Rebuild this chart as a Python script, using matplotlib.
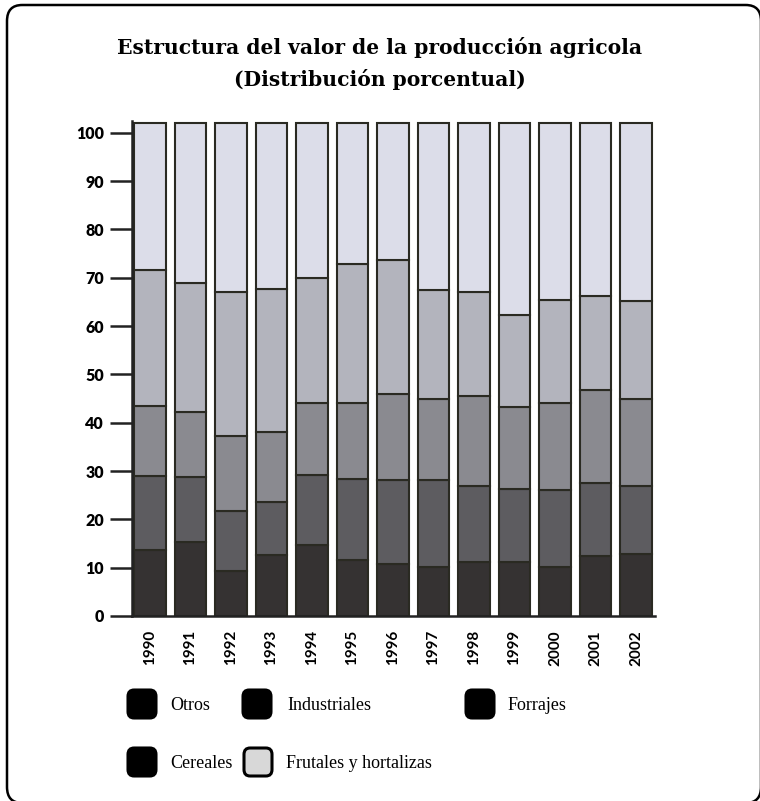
import matplotlib
matplotlib.use("Agg")
import matplotlib.pyplot as plt
from matplotlib.patches import FancyBboxPatch
import numpy as np

years = ["1990", "1991", "1992", "1993", "1994", "1995", "1996",
         "1997", "1998", "1999", "2000", "2001", "2002"]
otros = [13.6, 15.3, 9.3, 12.6, 14.6, 11.5, 10.8, 10.1, 11.1, 11.1, 10.1, 12.4, 12.9]
industriales = [15.3, 13.4, 12.4, 11.0, 14.5, 16.8, 17.4, 18.0, 15.8, 15.1, 15.9, 15.1, 14.0]
forrajes = [14.6, 13.5, 15.6, 14.4, 15.0, 15.8, 17.8, 16.7, 18.6, 17.0, 18.1, 19.2, 18.1]
cereales = [28.1, 26.6, 29.7, 29.6, 25.8, 28.7, 27.6, 22.6, 21.6, 19.1, 21.3, 19.5, 20.2]
frutales = [30.4, 33.2, 35.0, 34.4, 32.1, 29.2, 28.4, 34.6, 34.9, 39.7, 36.6, 35.8, 36.8]

series_names = ["Otros", "Industriales", "Forrajes", "Cereales", "Frutales y hortalizas"]
series = [otros, industriales, forrajes, cereales, frutales]
colors = ["#353232", "#5d5c60", "#8a8a90", "#b3b4bd", "#dcdde9"]
yticks = [0, 10, 20, 30, 40, 50, 60, 70, 80, 90, 100]

W, H = 760, 801
fig = plt.figure(figsize=(W / 100, H / 100), dpi=100)

# frame (right and bottom edges run off the image)
frame = FancyBboxPatch((7 / W, -2 / H), (761 - 7) / W, (796 + 2) / H,
                       boxstyle="round,pad=0,rounding_size=0.02",
                       transform=fig.transFigure, fill=False,
                       edgecolor="black", linewidth=1.8)
fig.patches.append(frame)

title_font = "DejaVu Serif"
fig.text(0.5, 1 - 47 / H, "Estructura del valor de la producción agricola",
         ha="center", va="center", fontsize=14.6, fontweight="heavy", family=title_font)
fig.text(0.5, 1 - 80 / H, "(Distribución porcentual)",
         ha="center", va="center", fontsize=14.6, fontweight="heavy", family=title_font)

ax = fig.add_axes([131.7 / W, 185 / H, (655 - 131.7) / W, (680.4 - 185) / H])
x = np.arange(len(years))
bottom = np.zeros(len(years))
for name, vals, c in zip(series_names, series, colors):
    v = np.array(vals)
    ax.bar(x, v, bottom=bottom, width=0.77, color=c, edgecolor="#2a2a22",
           linewidth=1.5, label=name)
    bottom += v

ax.set_xlim(-0.45, len(years) - 1 + 0.47)
ax.set_ylim(0, 102.5)
ax.set_yticks(yticks)
ax.set_yticklabels([str(t) for t in yticks], fontsize=11.5, fontweight="heavy", family="Lato")
ax.set_xticks(x)
ax.set_xticklabels(years, rotation=90, fontsize=11, fontweight="bold", family="Lato")
ax.tick_params(axis="y", length=16, width=1.8, pad=4, color="#222222")
ax.tick_params(axis="x", length=0, pad=10)
for s in ["top", "right"]:
    ax.spines[s].set_visible(False)
ax.spines["left"].set_linewidth(1.8)
ax.spines["bottom"].set_linewidth(1.8)
ax.spines["left"].set_color("#222222")
ax.spines["bottom"].set_color("#222222")

# legend (custom layout)
leg_items = [
    ("Otros", 128, 690, 170, "#000000"),
    ("Industriales", 243, 690, 287, "#000000"),
    ("Forrajes", 466, 690, 508, "#000000"),
    ("Cereales", 128, 748, 170, "#000000"),
    ("Frutales y hortalizas", 244, 748, 286, "#d8d8d8"),
]
for label, sx, sy, tx, fc in leg_items:
    box = FancyBboxPatch((sx / W, 1 - (sy + 28) / H), 28 / W, 28 / H,
                         boxstyle="round,pad=0,rounding_size=0.008",
                         transform=fig.transFigure, facecolor=fc,
                         edgecolor="black", linewidth=2.2)
    fig.patches.append(box)
    fig.text(tx / W, 1 - (sy + 15) / H, label, ha="left", va="center",
             fontsize=13, family="Liberation Serif")

fig.savefig("out.png", dpi=100, facecolor="white")
